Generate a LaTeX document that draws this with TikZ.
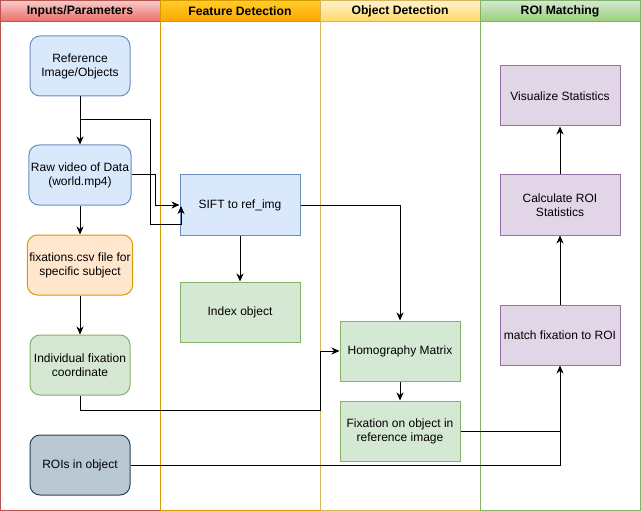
\documentclass[tikz,border=0pt]{standalone}
\usepackage{fontspec}
\setmainfont{Liberation Sans}
\usepackage{tikz}
\usetikzlibrary{arrows.meta}

\definecolor{redline}{HTML}{B85450}
\definecolor{redtop}{HTML}{F8CECC}
\definecolor{redbot}{HTML}{EA6B66}
\definecolor{orline}{HTML}{D79B00}
\definecolor{ortop}{HTML}{FFCD28}
\definecolor{orbot}{HTML}{FFA500}
\definecolor{yelline}{HTML}{D6B656}
\definecolor{yeltop}{HTML}{FFF2CC}
\definecolor{yelbot}{HTML}{FFD966}
\definecolor{grline}{HTML}{82B366}
\definecolor{grfill}{HTML}{D5E8D4}
\definecolor{grbot}{HTML}{97D077}
\definecolor{blline}{HTML}{6C8EBF}
\definecolor{blfill}{HTML}{DAE8FC}
\definecolor{orfill}{HTML}{FFE6CC}
\definecolor{puline}{HTML}{9673A6}
\definecolor{pufill}{HTML}{E1D5E7}
\definecolor{slline}{HTML}{23445D}
\definecolor{slfill}{HTML}{BAC8D3}

\tikzset{
  box/.style={draw, minimum width=120pt, minimum height=60pt, align=center,
    inner sep=2pt, font=\fontsize{12}{14}\selectfont},
  inbox/.style={box, rounded corners=10pt, minimum width=100pt},
  lanehead/.style={font=\bfseries\fontsize{12.2}{14}\selectfont},
}

\begin{document}
\begin{tikzpicture}[>={Stealth[length=8pt,width=7pt,inset=2.5pt]}, x=1pt, y=-1pt, line width=1pt]
\useasboundingbox (0,0) rectangle (641,511);
% lanes
\shade[top color=redtop, bottom color=redbot] (0,0) rectangle (160,22);
\draw[redline] (0.5,0.5) rectangle (160,510.5);
\draw[redline] (0.5,22) -- (160,22);
\shade[top color=ortop, bottom color=orbot] (160,0.5) rectangle (320,22);
\draw[orline] (160,0.5) rectangle (320,510.5);
\draw[orline] (160,22) -- (320,22);
\shade[top color=yeltop, bottom color=yelbot] (320,0.5) rectangle (480,22);
\draw[yelline] (320,0.5) rectangle (480,510.5);
\draw[yelline] (320,22) -- (480,22);
\shade[top color=grfill, bottom color=grbot] (480,0.5) rectangle (640,22);
\draw[grline] (480,0.5) rectangle (640.5,510.5);
\draw[grline] (480,22) -- (640.5,22);
\node[lanehead] (h1) at (80,11) {Inputs/Parameters};
\node[lanehead] (h2) at (240,11) {Feature Detection};
\node[lanehead] (h3) at (400,11) {Object Detection};
\node[lanehead] (h4) at (560,11) {ROI Matching};

% inputs
\node[inbox, draw=blline, fill=blfill] (ref) at (80,66) {Reference\\Image/Objects};
\node[inbox, draw=blline, fill=blfill] (raw) at (80,175) {Raw video of Data\\(world.mp4)};
\node[inbox, draw=orline, fill=orfill] (csv) at (80,265) {fixations.csv file for\\specific subject};
\node[inbox, draw=grline, fill=grfill] (fix) at (80,365) {Individual fixation\\coordinate};
\node[inbox, draw=slline, fill=slfill] (roi) at (80,465) {ROIs in object};

% feature / object detection
\node[box, draw=blline, fill=blfill] (sift) at (240,205) {SIFT to ref\_img};
\node[box, draw=grline, fill=grfill] (index) at (240,312) {Index object};
\node[box, draw=grline, fill=grfill] (homo) at (400,351) {Homography Matrix};
\node[box, draw=grline, fill=grfill] (fobj) at (400,431) {Fixation on object in\\reference image};

% roi matching
\node[box, draw=puline, fill=pufill] (match) at (560,335) {match fixation to ROI};
\node[box, draw=puline, fill=pufill] (calc) at (560,205) {Calculate ROI\\Statistics};
\node[box, draw=puline, fill=pufill] (vis) at (560,96) {Visualize Statistics};

\coordinate (refsplit) at (80,120);
\coordinate (fixturn) at (320,410);

\draw[->] (ref) to (raw);
\draw[->] (refsplit) -- (150,120) -- (150,224) -- (181,224) -- (181,206);
\draw[->] (raw.east) -- (155,175) -- (155,205) -- (sift.west);
\draw[->] (raw) to (csv);
\draw[->] (csv) to (fix);
\draw[->] (fix.south) -- (80,410) -- (fixturn) |- (homo.west);
\draw[->] (sift.east) -| (homo.north);
\draw[->] (sift) to (index);
\draw[->] (homo) to (fobj);
\draw[->] (roi.east) -| (match.south);
\draw (fobj.east) -- (560,431);
\draw[->] (match) to (calc);
\draw[->] (calc) to (vis);
\end{tikzpicture}
\end{document}
